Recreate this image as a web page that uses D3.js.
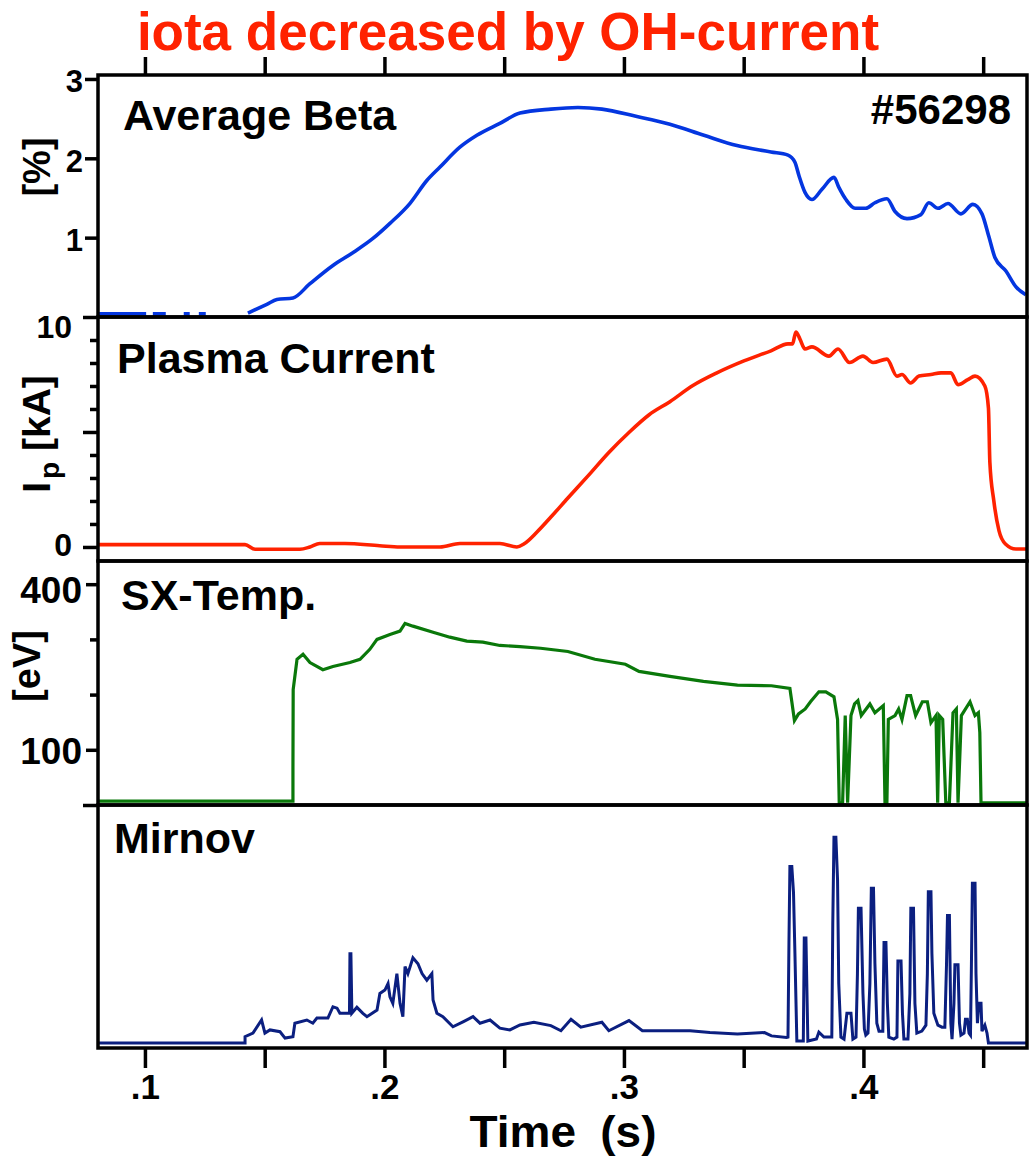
<!DOCTYPE html>
<html>
<head>
<meta charset="utf-8">
<script src="https://cdn.jsdelivr.net/npm/d3@7"></script>
<style>
  html, body { margin: 0; padding: 0; background: #fff; }
  svg { display: block; }
  text { font-family: "Liberation Sans", Arial, Helvetica, sans-serif; font-weight: bold; }
</style>
</head>
<body>
<div id="chart"></div>
<script>
// ---- time axis (s) ----
const timeDomain = [0.0804, 0.4683];
const timeTicksMajor = [0.1, 0.2, 0.3, 0.4];
const timeTicksAll = [0.1, 0.15, 0.2, 0.25, 0.3, 0.35, 0.4, 0.45];

// ---- Average beta [%]: [time, value], null = gap in the record ----
const betaSeries = [
  [0.0804,0.04],[0.1005,0.04],[0.1006,null],[0.1033,0.04],[0.1087,0.04],[0.1088,null],
  [0.1162,0.04],[0.1187,0.04],[0.1188,null],[0.1225,0.04],[0.1254,0.04],[0.1255,null],
  [0.1430,0.05],[0.1509,0.16],[0.1551,0.22],[0.1618,0.24],[0.1689,0.42],[0.1785,0.65],
  [0.1868,0.81],[0.1952,0.99],[0.2023,1.18],[0.2106,1.43],[0.2177,1.72],[0.2232,1.89],
  [0.2315,2.14],[0.2386,2.29],[0.2482,2.44],[0.2566,2.57],[0.2695,2.62],[0.2808,2.64],
  [0.2908,2.62],[0.3050,2.53],[0.3192,2.43],[0.3334,2.29],[0.3472,2.16],[0.3614,2.08],
  [0.3685,2.04],[0.3714,1.95],[0.3731,1.78],[0.3756,1.57],[0.3785,1.48],[0.3827,1.61],
  [0.3877,1.76],[0.3898,1.63],[0.3927,1.48],[0.3965,1.37],[0.4010,1.37],[0.4048,1.44],
  [0.4098,1.49],[0.4132,1.33],[0.4182,1.24],[0.4240,1.29],[0.4273,1.44],[0.4311,1.37],
  [0.4353,1.43],[0.4407,1.30],[0.4457,1.42],[0.4495,1.30],[0.4524,1.01],[0.4549,0.75],
  [0.4595,0.58],[0.4637,0.38],[0.4678,0.28]
];
const betaTicks = [1, 2, 3];

// ---- Plasma current Ip [kA] ----
const currentSeries = [
  [0.0804,0.10],[0.1418,0.10],[0.1460,-0.10],[0.1647,-0.10],[0.1689,0.00],[0.1730,0.15],
  [0.1835,0.15],[0.1980,0.05],[0.2065,0.00],[0.2232,0.00],[0.2315,0.15],[0.2482,0.15],
  [0.2553,0.00],[0.2582,0.13],[0.2637,0.65],[0.2695,1.30],[0.2766,2.13],[0.2850,3.09],
  [0.2937,4.11],[0.3021,4.98],[0.3104,5.74],[0.3192,6.32],[0.3288,7.02],[0.3388,7.57],
  [0.3501,8.09],[0.3614,8.53],[0.3685,8.83],[0.3704,8.83],[0.3718,9.35],[0.3735,9.04],
  [0.3756,8.61],[0.3785,8.70],[0.3856,8.30],[0.3894,8.61],[0.3942,8.02],[0.3998,8.30],
  [0.4040,8.02],[0.4098,8.17],[0.4140,7.43],[0.4161,7.50],[0.4197,7.13],[0.4232,7.43],
  [0.4282,7.50],[0.4324,7.57],[0.4365,7.57],[0.4395,7.06],[0.4436,7.28],[0.4466,7.43],
  [0.4507,7.00],[0.4522,6.04],[0.4528,3.67],[0.4544,2.04],[0.4566,0.71],[0.4593,0.13],
  [0.4637,-0.09],[0.4683,-0.09]
];
const currentTicksMajor = [0, 5, 10];
const currentTicksMinor = [1, 2, 3, 4, 6, 7, 8, 9];

// ---- Soft X-ray temperature [eV] ----
const tempSeries = [
  [0.0804,7],[0.1618,7],[0.1618,69],[0.1619,209],[0.1635,264],[0.1660,273],[0.1689,258],
  [0.1743,245],[0.1785,251],[0.1856,258],[0.1898,264],[0.1939,282],[0.1969,300],[0.2023,309],
  [0.2065,315],[0.2086,329],[0.2119,324],[0.2203,313],[0.2273,304],[0.2344,297],[0.2411,295],
  [0.2482,289],[0.2566,287],[0.2652,284],[0.2766,278],[0.2879,264],[0.3006,255],[0.3063,242],
  [0.3192,233],[0.3332,224],[0.3474,217],[0.3616,216],[0.3693,211],[0.3701,187],[0.3712,153],
  [0.3729,165],[0.3757,174],[0.3779,187],[0.3814,205],[0.3843,205],[0.3877,196],[0.3892,155],
  [0.3899,4],[0.3913,4],[0.3924,162],[0.3934,4],[0.3948,162],[0.3963,183],[0.3977,189],
  [0.3991,162],[0.4027,183],[0.4048,167],[0.4083,180],[0.4090,4],[0.4098,4],[0.4104,155],
  [0.4132,162],[0.4147,174],[0.4161,155],[0.4182,198],[0.4197,198],[0.4218,162],[0.4246,187],
  [0.4267,187],[0.4282,149],[0.4303,162],[0.4310,4],[0.4317,162],[0.4331,155],[0.4344,4],
  [0.4359,4],[0.4374,167],[0.4388,174],[0.4395,4],[0.4409,162],[0.4445,187],[0.4466,162],
  [0.4480,167],[0.4486,131],[0.4491,4],[0.4683,4]
];
const tempTicksLabeled = [100, 400];
const tempTicksMinor = [200, 300];

// ---- Mirnov coil signal [a.u.] ----
const mirnovSeries = [
  [0.0804,0],[0.1418,0],[0.1418,0.32],[0.1451,0.5],[0.1487,1.16],[0.1501,0.5],[0.1522,0.66],
  [0.1564,0.57],[0.1585,0.25],[0.1618,0.32],[0.1626,1.0],[0.1676,1.16],[0.1701,1.0],[0.1718,1.26],
  [0.1764,1.26],[0.1785,1.83],[0.1802,1.76],[0.1814,1.5],[0.1843,1.5],[0.1854,1.5],[0.1856,4.5],
  [0.1860,4.5],[0.1864,1.5],[0.1885,1.8],[0.1910,1.5],[0.1927,1.33],[0.1969,1.66],[0.1981,2.5],
  [0.2002,2.67],[0.2015,3.0],[0.2023,2.33],[0.2035,2.0],[0.2052,3.5],[0.2065,2.0],[0.2077,1.33],
  [0.2086,3.85],[0.2098,3.5],[0.2119,4.3],[0.2140,4.0],[0.2157,3.5],[0.2177,3.17],[0.2198,3.5],
  [0.2203,2.17],[0.2219,1.5],[0.2244,1.33],[0.2286,0.82],[0.2328,1.07],[0.2370,1.33],[0.2399,1.0],
  [0.2441,1.16],[0.2482,0.75],[0.2524,0.66],[0.2566,0.91],[0.2624,1.05],[0.2695,0.88],[0.2737,0.62],
  [0.2779,1.2],[0.2820,0.8],[0.2908,1.05],[0.2937,0.62],[0.3021,1.13],[0.3077,0.62],[0.3192,0.62],
  [0.3276,0.62],[0.3359,0.53],[0.3474,0.45],[0.3587,0.53],[0.3616,0.36],[0.3679,0.28],
  [0.3685,0.3],[0.3689,5.0],[0.3693,8.9],[0.3701,8.9],[0.3708,7.6],[0.3714,4.5],[0.3722,0.1],
  [0.3735,0.1],[0.3749,0.1],[0.3753,5.3],[0.3760,5.3],[0.3768,0.1],
  [0.3804,0.2],[0.3814,0.55],[0.3835,0.3],[0.3860,0.3],
  [0.3868,0.3],[0.3872,6.0],[0.3877,10.37],[0.3885,10.37],[0.3892,8.2],[0.3897,3.0],[0.3906,0.3],
  [0.3919,0.2],[0.3931,1.5],[0.3948,1.5],[0.3956,0.2],[0.3969,0.3],
  [0.3975,3.5],[0.3979,6.8],[0.3990,6.8],[0.3998,2.5],[0.4004,0.7],[0.4010,0.4],[0.4019,0.5],
  [0.4027,3.0],[0.4033,7.8],[0.4042,7.8],[0.4048,4.0],[0.4056,1.0],[0.4065,0.6],
  [0.4081,0.6],[0.4086,5.07],[0.4094,5.07],[0.4100,2.0],[0.4106,0.3],[0.4127,0.2],
  [0.4140,0.3],[0.4144,4.13],[0.4157,4.13],[0.4163,1.5],[0.4169,0.2],[0.4186,0.2],
  [0.4194,2.5],[0.4198,6.8],[0.4209,6.8],[0.4215,2.0],[0.4223,0.5],[0.4244,0.6],[0.4261,0.9],
  [0.4267,3.5],[0.4271,7.63],[0.4282,7.63],[0.4286,4.5],[0.4294,1.5],[0.4311,0.9],[0.4328,0.8],[0.4340,0.8],
  [0.4347,4.0],[0.4351,6.43],[0.4359,6.43],[0.4365,1.0],[0.4370,0.2],
  [0.4378,2.0],[0.4382,3.95],[0.4395,3.95],[0.4401,1.0],[0.4407,0.4],
  [0.4420,0.5],[0.4426,1.2],[0.4434,1.2],[0.4441,0.5],[0.4447,0.4],
  [0.4451,4.0],[0.4455,8.06],[0.4466,8.06],[0.4470,3.5],[0.4476,1.0],[0.4482,2.0],[0.4491,2.0],
  [0.4495,0.6],[0.4507,0.9],[0.4516,0.5],[0.4522,0],[0.4683,0]
];

// ---- text ----
const titleText = "iota decreased by OH-current";
const shotText = "#56298";
const panelNames = ["Average Beta", "Plasma Current", "SX-Temp.", "Mirnov"];
const xTitle = "Time (s)";

const W = 1032, H = 1156;
const frameLeft = 98, frameRight = 1027;
const panelTops = [75, 317, 561, 805];
const panelBottoms = [317, 561, 805, 1048];

const svg = d3.select("#chart").append("svg")
  .attr("width", W).attr("height", H)
  .attr("viewBox", `0 0 ${W} ${H}`);

svg.append("rect").attr("width", W).attr("height", H).attr("fill", "#fff");

const x = d3.scaleLinear().domain(timeDomain).range([frameLeft, frameRight]);

const yBeta = d3.scaleLinear().domain([0, 3.05]).range([panelBottoms[0], panelTops[0]]);
const yCur = d3.scaleLinear().domain([-0.61, 10]).range([panelBottoms[1], panelTops[1]]);
const yTemp = d3.scaleLinear().domain([0, 442]).range([panelBottoms[2], panelTops[2]]);
const yMir = d3.scaleLinear().domain([-0.25, 12]).range([panelBottoms[3], panelTops[3]]);

const defs = svg.append("defs");
defs.append("clipPath").attr("id", "plotClip")
  .append("rect")
  .attr("x", frameLeft).attr("y", panelTops[0])
  .attr("width", frameRight - frameLeft).attr("height", panelBottoms[3] - panelTops[0]);

// smooth traces use a monotone curve, sampled traces with vertical jumps stay linear
const traces = [
  { data: betaSeries, y: yBeta, color: "#0436e0", width: 3.6, curve: d3.curveMonotoneX },
  { data: currentSeries, y: yCur, color: "#ff2200", width: 3.6, curve: d3.curveMonotoneX },
  { data: tempSeries, y: yTemp, color: "#0a780a", width: 3.2, curve: d3.curveLinear },
  { data: mirnovSeries, y: yMir, color: "#0b1f80", width: 3.0, curve: d3.curveLinear }
];

const plot = svg.append("g").attr("clip-path", "url(#plotClip)");
traces.forEach(tr => {
  const line = d3.line()
    .defined(d => d[1] !== null)
    .curve(tr.curve)
    .x(d => x(d[0]))
    .y(d => tr.y(d[1]));
  plot.append("path")
    .datum(tr.data)
    .attr("fill", "none")
    .attr("stroke", tr.color)
    .attr("stroke-width", tr.width)
    .attr("stroke-linejoin", "miter")
    .attr("d", line);
});

// panel frames
const frames = svg.append("g");
panelTops.forEach((t, i) => {
  frames.append("rect")
    .attr("x", frameLeft).attr("y", t)
    .attr("width", frameRight - frameLeft)
    .attr("height", panelBottoms[i] - t)
    .attr("fill", "none").attr("stroke", "#000").attr("stroke-width", 3.5);
});

function styleAxis(g, fontSize) {
  g.select(".domain").remove();
  g.selectAll(".tick line").attr("stroke", "#000").attr("stroke-width", 3.5);
  g.selectAll(".tick text")
    .attr("fill", "#000")
    .attr("font-size", fontSize)
    .attr("font-family", "'Liberation Sans', Arial, sans-serif")
    .attr("font-weight", "bold");
}

const fmtTime = d => d3.format(".1f")(d).replace(/^0/, "");

// top time axis: ticks only
svg.append("g")
  .attr("transform", `translate(0,${panelTops[0]})`)
  .call(d3.axisTop(x).tickValues(timeTicksAll).tickSize(18).tickFormat(""))
  .call(g => styleAxis(g, 0));

// bottom time axis: ticks and labels
svg.append("g")
  .attr("transform", `translate(0,${panelBottoms[3]})`)
  .call(d3.axisBottom(x).tickValues(timeTicksAll).tickSize(20).tickPadding(6)
    .tickFormat(d => timeTicksMajor.some(m => Math.abs(m - d) < 1e-9) ? fmtTime(d) : ""))
  .call(g => styleAxis(g, 35))
  .call(g => g.selectAll(".tick text").attr("dy", "0.71em"));

// beta axis
svg.append("g")
  .attr("transform", `translate(${frameLeft},0)`)
  .call(d3.axisLeft(yBeta).tickValues(betaTicks).tickSize(13).tickPadding(2).tickFormat(d3.format("d")))
  .call(g => styleAxis(g, 31))
  .call(g => g.selectAll(".tick text").attr("dy", "0.42em"));

// plasma current axis
svg.append("g")
  .attr("transform", `translate(${frameLeft},0)`)
  .call(d3.axisLeft(yCur).tickValues(currentTicksMinor).tickSize(8).tickFormat(""))
  .call(g => styleAxis(g, 0));
svg.append("g")
  .attr("transform", `translate(${frameLeft},0)`)
  .call(d3.axisLeft(yCur).tickValues(currentTicksMajor).tickSize(15).tickPadding(11)
    .tickFormat(d => d === 5 ? "" : d3.format("d")(d)))
  .call(g => styleAxis(g, 32))
  .call(g => g.selectAll(".tick text").attr("dy", d => d === 10 ? "0.64em" : "0.28em"));

// temperature axis
svg.append("g")
  .attr("transform", `translate(${frameLeft},0)`)
  .call(d3.axisLeft(yTemp).tickValues(tempTicksMinor).tickSize(8).tickFormat(""))
  .call(g => styleAxis(g, 0));
svg.append("g")
  .attr("transform", `translate(${frameLeft},0)`)
  .call(d3.axisLeft(yTemp).tickValues(tempTicksLabeled).tickSize(12).tickPadding(4).tickFormat(d3.format("d")))
  .call(g => styleAxis(g, 37))
  .call(g => g.selectAll(".tick text").attr("dy", d => d === 400 ? "0.5em" : "0.36em"));
svg.append("g")
  .attr("transform", `translate(${frameLeft},0)`)
  .call(d3.axisLeft(yTemp).tickValues([0]).tickSize(15).tickFormat(""))
  .call(g => styleAxis(g, 0));

// title
svg.append("text")
  .attr("x", 508).attr("y", 50)
  .attr("text-anchor", "middle")
  .attr("font-size", 53)
  .attr("fill", "#ff2200")
  .text(titleText);

// panel names
const nameX = [123, 117, 121, 114];
const nameY = [130, 373, 610, 853];
panelNames.forEach((n, i) => {
  svg.append("text")
    .attr("x", nameX[i]).attr("y", nameY[i])
    .attr("font-size", 43)
    .attr("fill", "#000")
    .text(n);
});

svg.append("text")
  .attr("x", 1011).attr("y", 124)
  .attr("text-anchor", "end")
  .attr("font-size", 42)
  .attr("fill", "#000")
  .text(shotText);

// y-axis titles
svg.append("text")
  .attr("transform", "translate(50,167) rotate(-90)")
  .attr("text-anchor", "middle").attr("font-size", 38).attr("fill", "#000")
  .text("[%]");

const ipLabel = svg.append("text")
  .attr("transform", "translate(50,434) rotate(-90)")
  .attr("text-anchor", "middle").attr("font-size", 39).attr("fill", "#000");
ipLabel.append("tspan").text("I");
ipLabel.append("tspan").attr("font-size", 28).attr("dy", 9).attr("dx", 3).text("p");
ipLabel.append("tspan").attr("dy", -9).text(" [kA]");

svg.append("text")
  .attr("transform", "translate(40,666) rotate(-90)")
  .attr("text-anchor", "middle").attr("font-size", 38).attr("fill", "#000")
  .text("[eV]");

// x-axis title, drawn slightly tall and narrow
svg.append("text")
  .attr("transform", "translate(563,1146.5) scale(1,1.1)")
  .attr("text-anchor", "middle")
  .attr("font-size", 40)
  .attr("word-spacing", 10)
  .attr("fill", "#000")
  .attr("textLength", 187)
  .attr("lengthAdjust", "spacingAndGlyphs")
  .text(xTitle);
</script>
</body>
</html>
